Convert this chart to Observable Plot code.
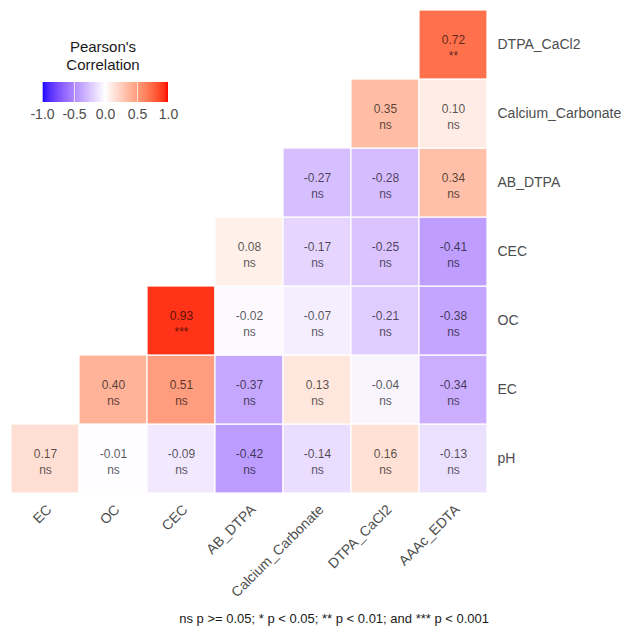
<!DOCTYPE html>
<html>
<head>
<meta charset="utf-8">
<script src="https://cdn.jsdelivr.net/npm/d3@7"></script>
<script src="https://cdn.jsdelivr.net/npm/@observablehq/plot@0.6"></script>
<style>
  html, body { margin: 0; padding: 0; background: #fff; }
  #wrap { position: relative; width: 623px; height: 630px; font-family: "Liberation Sans", Arial, sans-serif; }
  #chart { position: absolute; left: 0; top: 0; }
  #ltitle { position: absolute; left: 33px; top: 38px; width: 140px; text-align: center; font-size: 15px; line-height: 18px; color: #1a1a1a; }
  #legend { position: absolute; left: 30px; top: 82px; }
  #caption { position: absolute; left: 0; top: 610px; width: 489px; text-align: right; font-size: 13px; line-height: 18px; color: #1a1a1a; white-space: nowrap; }
</style>
</head>
<body>
<div id="wrap">
  <div id="chart"></div>
  <div id="ltitle">Pearson's<br>Correlation</div>
  <div id="legend"></div>
  <div id="caption"></div>
</div>
<script>
// Variables (columns left→right, rows top→bottom)
const colVars = ["EC", "OC", "CEC", "AB_DTPA", "Calcium_Carbonate", "DTPA_CaCl2", "AAAc_EDTA"];
const rowVars = ["DTPA_CaCl2", "Calcium_Carbonate", "AB_DTPA", "CEC", "OC", "EC", "pH"];

// Lower-triangle correlations, one list per row
const rowNames = ["pH", "EC", "OC", "CEC", "AB_DTPA", "Calcium_Carbonate", "DTPA_CaCl2"];
const rowCols = [
  ["EC", "OC", "CEC", "AB_DTPA", "Calcium_Carbonate", "DTPA_CaCl2", "AAAc_EDTA"],
  ["OC", "CEC", "AB_DTPA", "Calcium_Carbonate", "DTPA_CaCl2", "AAAc_EDTA"],
  ["CEC", "AB_DTPA", "Calcium_Carbonate", "DTPA_CaCl2", "AAAc_EDTA"],
  ["AB_DTPA", "Calcium_Carbonate", "DTPA_CaCl2", "AAAc_EDTA"],
  ["Calcium_Carbonate", "DTPA_CaCl2", "AAAc_EDTA"],
  ["DTPA_CaCl2", "AAAc_EDTA"],
  ["AAAc_EDTA"]
];
const rowValues = [
  [0.17, -0.01, -0.09, -0.42, -0.14, 0.16, -0.13],
  [0.40, 0.51, -0.37, 0.13, -0.04, -0.34],
  [0.93, -0.02, -0.07, -0.21, -0.38],
  [0.08, -0.17, -0.25, -0.41],
  [-0.27, -0.28, 0.34],
  [0.35, 0.10],
  [0.72]
];
const rowSig = [
  ["ns", "ns", "ns", "ns", "ns", "ns", "ns"],
  ["ns", "ns", "ns", "ns", "ns", "ns"],
  ["***", "ns", "ns", "ns", "ns"],
  ["ns", "ns", "ns", "ns"],
  ["ns", "ns", "ns"],
  ["ns", "ns"],
  ["**"]
];
const legendTicks = [-1, -0.5, 0, 0.5, 1];
const legendTitle = "Pearson's Correlation";
const captionText = "ns p >= 0.05; * p < 0.05; ** p < 0.01; and *** p < 0.001";

const cells = [];
rowNames.forEach((rn, i) => rowCols[i].forEach((cn, j) => {
  cells.push({row: rn, col: cn, r: rowValues[i][j], sig: rowSig[i][j]});
}));

const colorSpec = {type: "linear", domain: [-1, 0, 1], range: ["blue", "white", "red"], interpolate: "lab"};
const font = "Liberation Sans, Arial, sans-serif";

const chart = Plot.plot({
  width: 623,
  height: 600,
  marginLeft: 9,
  marginRight: 134,
  marginTop: 9,
  marginBottom: 107,
  style: {fontFamily: font, background: "white"},
  x: {type: "band", domain: colVars, padding: 0, axis: null},
  y: {type: "band", domain: rowVars, padding: 0, axis: null},
  color: colorSpec,
  marks: [
    Plot.cell(cells, {x: "col", y: "row", fill: "r", stroke: "white", strokeWidth: 1.2}),
    Plot.text(cells, {x: "col", y: "row", text: d => d.r.toFixed(2) + "\n" + d.sig,
      fontSize: 12, lineHeight: 1.33, dy: 2, fill: "black", fillOpacity: 0.68, fontFamily: font}),
    Plot.text(rowVars, {y: d => d, text: d => d, frameAnchor: "right", textAnchor: "start", dx: 8,
      fontSize: 14, fill: "#4d4d4d", fontFamily: font}),
    Plot.text(colVars, {x: d => d, text: d => d, frameAnchor: "bottom", textAnchor: "end", rotate: -45,
      dx: 7, dy: 17, fontSize: 14, fill: "#4d4d4d", fontFamily: font})
  ]
});
document.getElementById("chart").appendChild(chart);

const legend = Plot.legend({
  color: colorSpec,
  width: 150, height: 42,
  marginLeft: 12, marginRight: 12, marginTop: 0, marginBottom: 22,
  tickSize: 0,
  ticks: legendTicks,
  tickFormat: d => d.toFixed(1),
  style: {fontFamily: font, fontSize: "14px", color: "#4d4d4d", background: "transparent"}
});
document.getElementById("legend").appendChild(legend);
d3.select(legend).selectAll(".tick line").attr("stroke", "white").attr("stroke-opacity", 0.7).attr("y1", -20).attr("y2", 0);
d3.select(legend).selectAll(".tick text").attr("y", 7).attr("fill", "#4d4d4d");
d3.select(legend).selectAll(".domain").remove();

document.getElementById("caption").textContent = captionText;
</script>
</body>
</html>
